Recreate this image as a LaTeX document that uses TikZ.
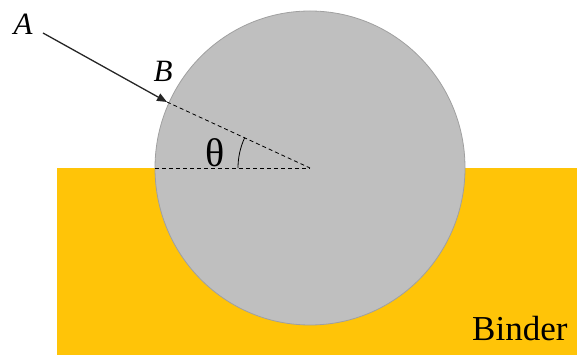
\documentclass[tikz,border=0pt]{standalone}
\usepackage{fontspec}
\setmainfont{Liberation Serif}
\usetikzlibrary{arrows.meta}
\definecolor{binder}{HTML}{FFC408}
\definecolor{grain}{HTML}{BFBFBF}
\definecolor{grainedge}{HTML}{A0A0A0}
\tikzset{
  lbl/.style={inner sep=0pt},
  dash line/.style={dashed, line width=0.8pt, dash pattern=on 4pt off 3pt},
}
\begin{document}
\begin{tikzpicture}[x=1pt,y=1pt]
\useasboundingbox (0,0) rectangle (585,358);
\fill[binder] (57,3) rectangle (577,190);
\coordinate (O) at (310,190);
\fill[grain, draw=grainedge, line width=0.8pt] (O) ellipse [x radius=155, y radius=157];
\coordinate (B) at (167,256);
\coordinate (Astart) at (43,325);
\coordinate (L) at (155,190);
\draw[line width=1.3pt, draw=black!85, -{Triangle[length=10pt,width=8pt]}] (Astart) -- (B);
\draw[dash line] (B) -- (O);
\draw[dash line] (L) -- (O);
\draw[line width=0.8pt] ([shift={(180:72)}]O) arc[start angle=180, end angle=155, radius=72];
\node[lbl, font=\fontsize{31}{31}\selectfont\itshape] (A) at (23,334) {A};
\node[lbl, font=\fontsize{31}{31}\selectfont\itshape] (Bl) at (163,287) {B};
\node[lbl, font=\fontsize{40}{40}\selectfont] (th) at (215,205) {θ};
\node[lbl, font=\fontsize{35}{35}\selectfont, anchor=base west] (bind) at (472,17) {Binder};
\end{tikzpicture}
\end{document}
